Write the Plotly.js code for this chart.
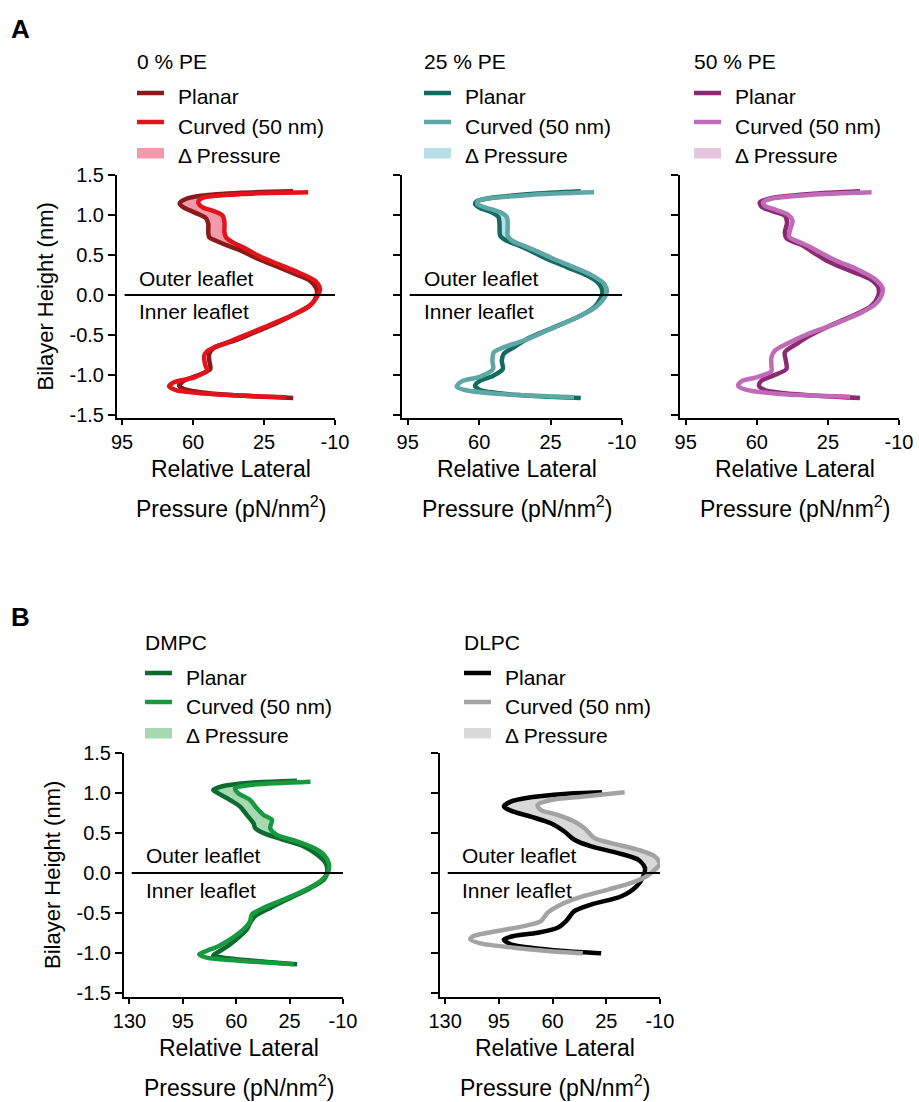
<!DOCTYPE html>
<html>
<head>
<meta charset="utf-8">
<script src="https://cdn.plot.ly/plotly-3.0.1.min.js"></script>
<style>html,body{margin:0;padding:0;background:#fff;}#chart{width:919px;height:1102px;}</style>
</head>
<body>
<div id="chart"></div>
<script>
// ---------------- DATA ----------------
// Panel A : 0 % PE
const pe0PlanarHeight = [1.296,1.279,1.241,1.2,1.146,1.104,1.033,0.962,0.887,0.783,0.72,0.679,0.617,0.554,0.471,0.367,0.263,0.179,0.075,-0.008,-0.113,-0.217,-0.363,-0.467,-0.571,-0.654,-0.738,-0.821,-0.925,-0.988,-1.071,-1.134,-1.175,-1.238,-1.288];
const pe0PlanarPressure = [10.6,36.3,56.1,63.6,66.6,65.2,59.4,53.7,52.5,52.5,52,48.7,42.9,36.3,29.7,19.7,9.8,2.4,-0.9,-0.9,1.5,8.2,19.7,29.7,39.6,49.5,52,52,51.5,56.1,64.4,66.9,64.4,47.9,10.6];
const pe0CurvedHeight = [1.283,1.262,1.221,1.187,1.146,1.096,1.046,0.992,0.908,0.783,0.72,0.658,0.588,0.492,0.387,0.283,0.179,0.075,-0.008,-0.134,-0.238,-0.384,-0.488,-0.592,-0.696,-0.759,-0.863,-0.946,-1.029,-1.092,-1.142,-1.188,-1.238,-1.279];
const pe0CurvedPressure = [3.2,36.3,54.5,57,57.3,55.3,49.5,45.4,44.5,44.5,43.7,40.4,34.6,28,18.1,8.2,-0.1,-2.6,-1.4,2.4,9.8,23.1,33,42.9,52.8,54.5,54.1,53.2,59.4,69.4,71.8,68.5,51.2,14];

// Panel A : 25 % PE
const pe25PlanarHeight = [1.296,1.262,1.212,1.171,1.137,1.087,1.033,0.971,0.867,0.742,0.687,0.629,0.554,0.45,0.346,0.242,0.138,0.033,-0.038,-0.154,-0.279,-0.404,-0.529,-0.654,-0.738,-0.821,-0.925,-1.008,-1.071,-1.134,-1.188,-1.238,-1.288];
const pe25PlanarPressure = [10.2,34.9,54.6,61.2,62,59.5,53.8,50.5,50,49.7,47.2,41.5,34.9,26.7,16.8,7,1.2,-0.4,0.4,3.7,11.9,23.4,34.9,43.1,48,48.9,48.4,53,59.5,62,59.5,46.4,10.2];
const pe25CurvedHeight = [1.283,1.25,1.179,1.137,1.096,1.033,0.971,0.846,0.742,0.679,0.617,0.546,0.45,0.346,0.242,0.138,0.042,-0.038,-0.154,-0.279,-0.425,-0.571,-0.654,-0.717,-0.821,-0.925,-1.021,-1.079,-1.146,-1.188,-1.238,-1.279];
const pe25CurvedPressure = [3.7,34.9,60.4,60.9,57.1,49.6,46.4,46,46,43.9,38.2,31.6,23.4,13.5,4.4,-1.3,-2.6,-1.3,2.9,11.9,25,38.2,48,52.8,53.5,53.2,59.5,68.6,71,66.9,49.7,13.5];

// Panel A : 50 % PE
const pe50PlanarHeight = [1.296,1.262,1.208,1.158,1.104,1.046,0.992,0.908,0.783,0.712,0.658,0.617,0.533,0.408,0.304,0.2,0.096,-0.008,-0.134,-0.238,-0.384,-0.508,-0.613,-0.717,-0.821,-0.925,-1.008,-1.071,-1.134,-1.188,-1.238,-1.288];
const pe50PlanarPressure = [9.2,33.9,53.6,58.5,57.7,52,46.2,45.1,46.2,45.4,41.3,37.2,32.3,24,14.2,4.3,0.2,0.2,3.5,10.9,24,33.9,40.5,46.2,45.7,45.4,52,57.7,58.9,56.1,42.1,9.2];
const pe50CurvedHeight = [1.283,1.25,1.2,1.158,1.117,1.062,1.004,0.929,0.804,0.729,0.667,0.604,0.533,0.429,0.325,0.2,0.087,-0.008,-0.121,-0.229,-0.371,-0.496,-0.613,-0.696,-0.779,-0.883,-0.954,-1.029,-1.079,-1.134,-1.179,-1.238,-1.271];
const pe50CurvedPressure = [3.5,33.9,53.6,56.9,56.1,50.3,44.6,42.4,43.7,44.1,39.6,33.9,29,20.8,10.9,1.9,-1.9,-1.4,1.9,9.2,22.4,35.5,45.4,51.1,52.8,52.8,52.8,60.2,67.6,69.2,65.9,48.7,14.1];

// Panel B : DMPC
const dmpcPlanarHeight = [1.154,1.129,1.087,1.037,0.996,0.913,0.83,0.726,0.622,0.56,0.498,0.415,0.332,0.228,0.124,0.021,-0.083,-0.187,-0.311,-0.436,-0.539,-0.622,-0.705,-0.788,-0.892,-0.975,-1.029,-1.058,-1.1,-1.141];
const dmpcPlanarPressure = [20.1,50.9,68.5,75.1,71.8,64.1,57.5,53.1,48.7,47.6,42.1,28.9,15.7,6.9,1.4,0.3,2.5,11.3,24.5,37.7,47.6,50.9,53.1,57.5,64.1,70.7,75.1,68.5,46.5,20.1];
const dmpcCurvedHeight = [1.141,1.1,1.058,0.996,0.913,0.809,0.726,0.664,0.56,0.477,0.394,0.311,0.228,0.116,0.008,-0.083,-0.199,-0.332,-0.436,-0.519,-0.602,-0.685,-0.788,-0.905,-0.975,-1.017,-1.058,-1.1,-1.141];
const dmpcCurvedPressure = [11.3,50.9,60.8,58.6,50.9,46.5,42.1,36.6,37.7,33.3,20.1,9.1,2.5,-0.8,-0.1,3.6,13.5,28.9,42.1,49.8,50.9,54.2,60.8,70.7,79.5,84.3,79.5,55.3,22.3];

// Panel B : DLPC
const dlpcPlanarHeight = [1.008,0.988,0.946,0.892,0.83,0.78,0.705,0.622,0.519,0.415,0.332,0.249,0.166,0.062,-0.041,-0.166,-0.29,-0.394,-0.477,-0.602,-0.685,-0.747,-0.788,-0.83,-0.892,-0.934,-0.975,-1.004];
const dlpcPlanarPressure = [27.8,52.3,74.2,87.3,91.7,87.3,74.2,61.1,52.3,45.8,34.8,17.3,4.2,-0.2,0.9,5.3,15.1,34.8,45.8,51.2,56.7,69.8,85.2,91.7,87.3,74.2,52.3,28.3];
const dlpcCurvedHeight = [1.008,0.954,0.913,0.851,0.788,0.726,0.643,0.56,0.436,0.373,0.29,0.207,0.116,0.041,-0.041,-0.124,-0.207,-0.311,-0.415,-0.498,-0.602,-0.664,-0.726,-0.788,-0.83,-0.88,-0.934,-0.975,-1.004];
const dlpcCurvedPressure = [13,41.4,61.1,69.8,67.6,56.7,45.8,39.2,32.6,21.7,4.2,-6.7,-9.8,-6.7,-1.3,8.6,23.9,43.6,56.7,63.3,67.6,78.6,96.1,111.4,113.6,107,85.2,63.3,40.3];

// Tick labels
const heightTicks = [-1.5,-1.0,-0.5,0.0,0.5,1.0,1.5];
const heightTickLabels = ['-1.5','-1.0','-0.5','0.0','0.5','1.0','1.5'];
const pressureTicksA = [95,60,25,-10];
const pressureTickLabelsA = ['95','60','25','-10'];
const pressureTicksB = [130,95,60,25,-10];
const pressureTickLabelsB = ['130','95','60','25','-10'];

const panelTitles = ['0 % PE','25 % PE','50 % PE','DMPC','DLPC'];
const seriesNames = ['Planar','Curved (50 nm)','\u0394 Pressure'];

// ---------------- STYLE ----------------
const W = 919, H = 1102;
const fx = p => p / W;
const fy = p => 1 - p / H;
const FONT = 'Liberation Sans, Arial, Helvetica, sans-serif';

const panels = [
  {planarH: pe0PlanarHeight, planarP: pe0PlanarPressure, curvedH: pe0CurvedHeight, curvedP: pe0CurvedPressure,
   cPlanar:'#8B1A1A', cCurved:'#E3121B', cFill:'#F29AAB', x0:117, x1:335, y0:175, y1:418, range:[97.5,-10], yr:[-1.5375,1.5],
   ticks:pressureTicksA, tickText:pressureTickLabelsA, labels:true, leaflet:true, legX:135, legY:0},
  {planarH: pe25PlanarHeight, planarP: pe25PlanarPressure, curvedH: pe25CurvedHeight, curvedP: pe25CurvedPressure,
   cPlanar:'#136B5F', cCurved:'#5EA7A6', cFill:'#B9DFE6', x0:402, x1:622, y0:175, y1:418, range:[97.8,-10], yr:[-1.5375,1.5],
   ticks:pressureTicksA, tickText:pressureTickLabelsA, labels:false, leaflet:true, legX:422, legY:0},
  {planarH: pe50PlanarHeight, planarP: pe50PlanarPressure, curvedH: pe50CurvedHeight, curvedP: pe50CurvedPressure,
   cPlanar:'#8A2A72', cCurved:'#C06BB5', cFill:'#E6C5DF', x0:680, x1:899, y0:175, y1:418, range:[97.8,-10], yr:[-1.5375,1.5],
   ticks:pressureTicksA, tickText:pressureTickLabelsA, labels:false, leaflet:false, legX:692, legY:0},
  {planarH: dmpcPlanarHeight, planarP: dmpcPlanarPressure, curvedH: dmpcCurvedHeight, curvedP: dmpcCurvedPressure,
   cPlanar:'#0C6B2E', cCurved:'#16993F', cFill:'#A8D8B2', x0:124, x1:343, y0:753, y1:997, range:[133.6,-10], yr:[-1.55,1.5],
   ticks:pressureTicksB, tickText:pressureTickLabelsB, labels:true, leaflet:true, legX:143, legY:580},
  {planarH: dlpcPlanarHeight, planarP: dlpcPlanarPressure, curvedH: dlpcCurvedHeight, curvedP: dlpcCurvedPressure,
   cPlanar:'#000000', cCurved:'#A3A3A3', cFill:'#D9D9D9', x0:440, x1:660, y0:753, y1:997, range:[133.3,-10], yr:[-1.55,1.5],
   ticks:pressureTicksB, tickText:pressureTickLabelsB, labels:false, leaflet:true, legX:462, legY:580}
];

// keep only the outer-leaflet part of a profile (the ΔPressure band is shaded there only)
function outer(h, p) {
  const hh = [], pp = [];
  h.forEach((v, k) => { if (v > -0.05) { hh.push(v); pp.push(p[k]); } });
  return {h: hh, p: pp};
}

const traces = [];
const layout = {
  width: W, height: H,
  margin: {l:0, r:0, t:0, b:0},
  paper_bgcolor: '#fff', plot_bgcolor: 'rgba(0,0,0,0)',
  showlegend: false,
  font: {family: FONT, size: 20, color: '#000'},
  shapes: [], annotations: []
};

panels.forEach((p, i) => {
  const n = i + 1;
  const xa = 'x' + (n === 1 ? '' : n), ya = 'y' + (n === 1 ? '' : n);
  const xk = 'xaxis' + (n === 1 ? '' : n), yk = 'yaxis' + (n === 1 ? '' : n);
  const po = outer(p.planarH, p.planarP), co = outer(p.curvedH, p.curvedP);
  // delta pressure band (outer leaflet)
  traces.push({type:'scatter', mode:'lines', x:po.p, y:po.h, xaxis:xa, yaxis:ya, name:seriesNames[2],
    line:{color:'rgba(0,0,0,0)', width:0, shape:'spline', smoothing:0.8}, hoverinfo:'skip'});
  traces.push({type:'scatter', mode:'lines', x:co.p, y:co.h, xaxis:xa, yaxis:ya, name:seriesNames[2],
    line:{color:'rgba(0,0,0,0)', width:0, shape:'spline', smoothing:0.8}, fill:'tonextx', fillcolor:p.cFill, hoverinfo:'skip'});
  // profiles
  traces.push({type:'scatter', mode:'lines', x:p.planarP, y:p.planarH, xaxis:xa, yaxis:ya, name:seriesNames[0],
    line:{color:p.cPlanar, width:4.5, shape:'spline', smoothing:0.8}, hoverinfo:'skip'});
  traces.push({type:'scatter', mode:'lines', x:p.curvedP, y:p.curvedH, xaxis:xa, yaxis:ya, name:seriesNames[1],
    line:{color:p.cCurved, width:4.5, shape:'spline', smoothing:0.8}, hoverinfo:'skip'});

  layout[xk] = {domain:[fx(p.x0), fx(p.x1)], range:p.range, anchor:ya, showgrid:false, zeroline:false,
    showline:true, linecolor:'#000', linewidth:2, ticks:'outside', ticklen:5, tickwidth:2, tickcolor:'#000',
    tickmode:'array', tickvals:p.ticks, ticktext:p.tickText, tickfont:{family:FONT, size:20, color:'#000'}};
  layout[yk] = {domain:[fy(p.y1), fy(p.y0)], range:p.yr, anchor:xa, showgrid:false, zeroline:false,
    showline:true, linecolor:'#000', linewidth:2, ticks:'outside', ticklen:7, tickwidth:2, tickcolor:'#000',
    tickmode:'array', tickvals:heightTicks, ticktext:heightTickLabels, showticklabels:p.labels,
    tickfont:{family:FONT, size:20, color:'#000'}};

  // x axis title (two lines)
  const cx = (p.x0 + p.x1) / 2 + 5;
  layout.annotations.push({xref:'paper', yref:'paper', x:fx(cx), y:fy(p.y1 + 51), text:'Relative Lateral',
    showarrow:false, xanchor:'center', yanchor:'middle', font:{family:FONT, size:23, color:'#000'}});
  layout.annotations.push({xref:'paper', yref:'paper', x:fx(cx), y:fy(p.y1 + 89), text:'Pressure (pN/nm<sup>2</sup>)',
    showarrow:false, xanchor:'center', yanchor:'middle', font:{family:FONT, size:23, color:'#000'}});
  if (p.labels) {
    layout.annotations.push({xref:'paper', yref:'paper', x:fx(p.x0 - 72), y:fy((p.y0 + p.y1) / 2), text:'Bilayer Height (nm)',
      textangle:-90, showarrow:false, xanchor:'center', yanchor:'middle', font:{family:FONT, size:22, color:'#000'}});
  }
  // leaflet divider
  if (p.leaflet) {
    layout.shapes.push({type:'line', xref:xa, yref:ya, x0:p.range[0] - (p.range[0]-(-10))*0.035, x1:-10, y0:0, y1:0,
      line:{color:'#000', width:2}});
    layout.annotations.push({xref:'paper', yref:'paper', x:fx(p.x0 + 20), y:fy(p.y0 + 103), text:'Outer leaflet',
      showarrow:false, xanchor:'left', yanchor:'middle', font:{family:FONT, size:21, color:'#000'}});
    layout.annotations.push({xref:'paper', yref:'paper', x:fx(p.x0 + 20), y:fy(p.y0 + 137), text:'Inner leaflet',
      showarrow:false, xanchor:'left', yanchor:'middle', font:{family:FONT, size:21, color:'#000'}});
  }
  // legend block
  const lx = p.legX, oy = p.legY;
  layout.annotations.push({xref:'paper', yref:'paper', x:fx(lx), y:fy(62 + oy), text:panelTitles[i],
    showarrow:false, xanchor:'left', yanchor:'middle', font:{family:FONT, size:21, color:'#000'}});
  const sx0 = lx + 2, sx1 = lx + 29, tx = lx + 41;
  layout.shapes.push({type:'line', xref:'paper', yref:'paper', x0:fx(sx0), x1:fx(sx1), y0:fy(93 + oy), y1:fy(93 + oy),
    line:{color:p.cPlanar, width:4.5}});
  layout.shapes.push({type:'line', xref:'paper', yref:'paper', x0:fx(sx0), x1:fx(sx1), y0:fy(122 + oy), y1:fy(122 + oy),
    line:{color:p.cCurved, width:4.5}});
  layout.shapes.push({type:'rect', xref:'paper', yref:'paper', x0:fx(sx0), x1:fx(sx1), y0:fy(148 + oy), y1:fy(158.5 + oy),
    line:{width:0}, fillcolor:p.cFill});
  [97, 126, 155].forEach((yy, k) => {
    layout.annotations.push({xref:'paper', yref:'paper', x:fx(tx), y:fy(yy + oy), text:seriesNames[k],
      showarrow:false, xanchor:'left', yanchor:'middle', font:{family:FONT, size:21, color:'#000'}});
  });
});

// panel letters
layout.annotations.push({xref:'paper', yref:'paper', x:fx(9), y:fy(29), text:'<b>A</b>', showarrow:false,
  xanchor:'left', yanchor:'middle', font:{family:FONT, size:26, color:'#000'}});
layout.annotations.push({xref:'paper', yref:'paper', x:fx(9), y:fy(617), text:'<b>B</b>', showarrow:false,
  xanchor:'left', yanchor:'middle', font:{family:FONT, size:26, color:'#000'}});

Plotly.newPlot('chart', traces, layout, {staticPlot:true, displayModeBar:false});
</script>
</body>
</html>
